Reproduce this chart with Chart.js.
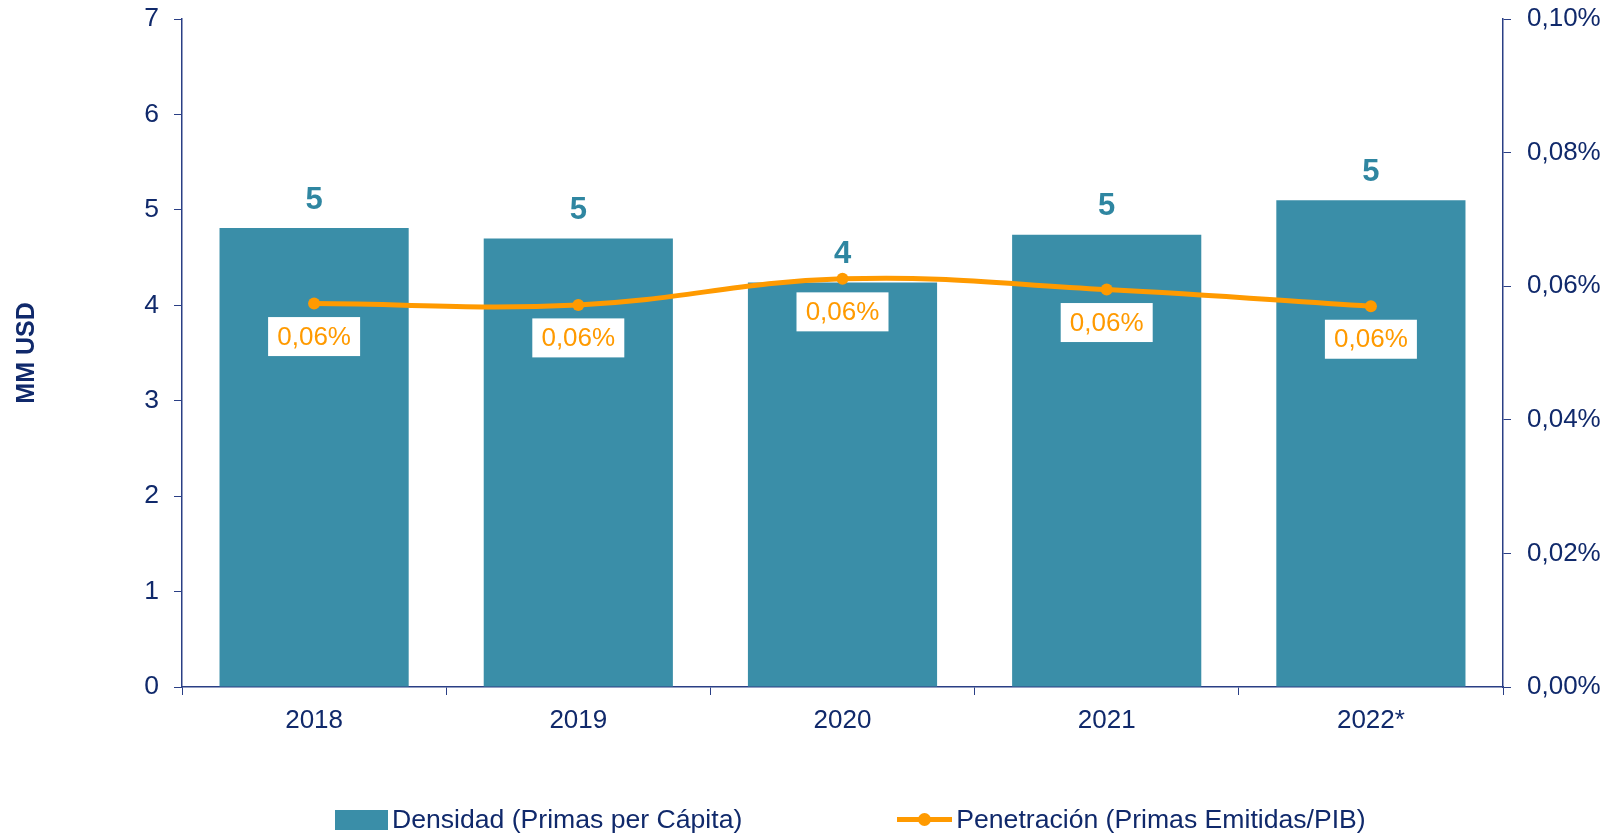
<!DOCTYPE html>
<html>
<head>
<meta charset="utf-8">
<script src="https://cdn.jsdelivr.net/npm/chart.js@4.4.1/dist/chart.umd.min.js"></script>
<style>
  body { margin: 0; background: #fff; }
  #wrap { position: relative; width: 1618px; height: 836px; }
  #legend {
    position: absolute; left: 335px; top: 804px;
    display: flex; align-items: center; gap: 155px;
    font: 26.6px "Liberation Sans", Arial, sans-serif; color: #10296b;
  }
  .item { display: flex; align-items: center; white-space: nowrap; }
  .box { width: 53px; height: 20px; margin-right: 4px; }
  .line { position: relative; width: 55px; height: 5px; margin-right: 4px; }
  .line i { position: absolute; left: 21px; top: -4px; width: 13px; height: 13px; border-radius: 50%; }
</style>
</head>
<body>
<div id="wrap">
  <canvas id="chart" width="1618" height="836"></canvas>
  <div id="legend"></div>
</div>
<script>
const years = ['2018', '2019', '2020', '2021', '2022*'];
// MM USD per cápita
const densidad = [4.81, 4.70, 4.24, 4.74, 5.10];
// % primas emitidas / PIB
const penetracion = [0.0574, 0.0572, 0.0611, 0.0595, 0.0570];
const leftTicks = [0, 1, 2, 3, 4, 5, 6, 7];
const rightTicks = [0, 0.02, 0.04, 0.06, 0.08, 0.10];

const navy = '#10296b';
const axisColor = '#2a3f85';
const teal = '#3a8ea8';
const orange = '#ff9a00';
const font = '"Liberation Sans", Arial, sans-serif';

const pct = v => v.toFixed(2).replace('.', ',') + '%';

// value labels: bold numbers above bars, boxed percentages under the line points
const valueLabels = {
    id: 'valueLabels',
    afterDatasetsDraw(chart) {
        const ctx = chart.ctx;
        ctx.save();
        ctx.textAlign = 'center';
        ctx.textBaseline = 'middle';

        ctx.font = 'bold 31px ' + font;
        ctx.fillStyle = '#2f86a1';
        chart.getDatasetMeta(0).data.forEach((bar, i) => {
            ctx.fillText(String(Math.round(densidad[i])), bar.x, bar.y - 28);
        });

        ctx.font = '26px ' + font;
        chart.getDatasetMeta(1).data.forEach((pt, i) => {
            const y = pt.y + 33;
            ctx.fillStyle = '#ffffff';
            ctx.fillRect(pt.x - 46, y - 19.5, 92, 39);
            ctx.fillStyle = orange;
            ctx.fillText(pct(penetracion[i]), pt.x, y + 1);
        });
        ctx.restore();
    }
};

const chart = new Chart(document.getElementById('chart'), {
    data: {
        labels: years,
        datasets: [{
            type: 'bar',
            label: 'Densidad (Primas per Cápita)',
            data: densidad,
            backgroundColor: teal,
            yAxisID: 'y',
            order: 2,
            categoryPercentage: 1,
            barPercentage: 0.716
        }, {
            type: 'line',
            label: 'Penetración (Primas Emitidas/PIB)',
            data: penetracion,
            borderColor: orange,
            backgroundColor: orange,
            borderWidth: 5,
            pointRadius: 6,
            pointBackgroundColor: orange,
            pointBorderWidth: 0,
            tension: 0.4,
            yAxisID: 'y1',
            order: 1
        }]
    },
    options: {
        responsive: false,
        animation: false,
        devicePixelRatio: 1,
        layout: { padding: { top: 19, right: 0, left: 0, bottom: 0 } },
        plugins: {
            legend: { display: false },
            tooltip: { enabled: false }
        },
        scales: {
            x: {
                grid: { offset: true, drawOnChartArea: false, tickLength: 8, color: axisColor },
                border: { color: axisColor, width: 1.5 },
                ticks: { color: navy, padding: 10, font: { size: 26, family: font } },
                afterFit: s => { s.height = 836 - 687; }
            },
            y: {
                position: 'left',
                min: 0,
                max: 7,
                afterBuildTicks: s => { s.ticks = leftTicks.map(v => ({ value: v })); },
                grid: { drawOnChartArea: false, tickLength: 8, color: axisColor },
                border: { color: axisColor, width: 1.5 },
                ticks: { color: navy, padding: 15, font: { size: 26.5, family: font } },
                title: {
                    display: true,
                    text: 'MM USD',
                    color: navy,
                    padding: { top: 12, bottom: 0 },
                    font: { size: 25, weight: 'bold', family: font }
                },
                afterFit: s => { s.width = 182; s.paddingTop = 0; s.paddingBottom = 0; }
            },
            y1: {
                position: 'right',
                min: 0,
                max: 0.10,
                afterBuildTicks: s => { s.ticks = rightTicks.map(v => ({ value: v })); },
                grid: { drawOnChartArea: false, tickLength: 8, color: axisColor },
                border: { color: axisColor, width: 1.5 },
                ticks: { color: navy, padding: 16, font: { size: 26, family: font }, callback: v => pct(v) },
                afterFit: s => { s.width = 1618 - 1503; s.paddingTop = 0; s.paddingBottom = 0; }
            }
        }
    },
    plugins: [valueLabels]
});

// html legend built from the datasets
const legendEl = document.getElementById('legend');
chart.data.datasets.forEach(ds => {
    const item = document.createElement('div');
    item.className = 'item';
    const mark = document.createElement('span');
    if (ds.type === 'bar') {
        mark.className = 'box';
        mark.style.background = ds.backgroundColor;
    } else {
        mark.className = 'line';
        mark.style.background = ds.borderColor;
        const dot = document.createElement('i');
        dot.style.background = ds.borderColor;
        mark.appendChild(dot);
    }
    const txt = document.createElement('span');
    txt.textContent = ds.label;
    item.appendChild(mark);
    item.appendChild(txt);
    legendEl.appendChild(item);
});
</script>
</body>
</html>
